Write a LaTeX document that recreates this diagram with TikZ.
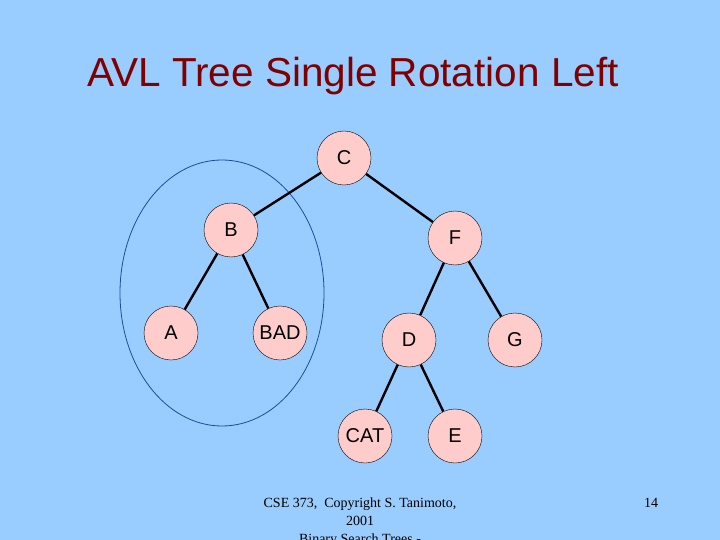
\documentclass[tikz,border=0pt]{standalone}
\usepackage{fontspec}
\setmainfont{Liberation Sans}
\newfontfamily\serifft{Liberation Serif}
\definecolor{bg}{HTML}{99CCFF}
\definecolor{nodefill}{HTML}{FFCCCC}
\definecolor{titlered}{HTML}{800000}
\definecolor{ellblue}{HTML}{1F4E99}
\begin{document}
\begin{tikzpicture}[x=1pt,y=-1pt,
  tn/.style={circle,draw=black,fill=nodefill,minimum size=54pt,inner sep=0pt,font=\fontsize{20}{22}\selectfont},
  edge/.style={line width=2.4pt,black}]
\fill[bg] (0,0) rectangle (720,540);
\useasboundingbox (0,0) rectangle (720,540);
\draw[ellblue,line width=0.8pt] (222,293) ellipse [x radius=102,y radius=133];
\node[font=\fontsize{40.5}{44}\selectfont,text=titlered] (title) at (353,76) {AVL Tree Single Rotation Left};
\node[tn] (C) at (344,158) {C};
\node[tn] (B) at (231,230) {B};
\node[tn] (F) at (455,238) {F};
\node[tn] (A) at (171,333) {A};
\node[tn] (BAD) at (280,333) {BAD};
\node[tn] (D) at (409,340) {D};
\node[tn] (G) at (515,340) {G};
\node[tn] (CAT) at (365,436) {CAT};
\node[tn] (E) at (455,436) {E};
\draw[edge] (C) -- (B);
\draw[edge] (C) -- (F);
\draw[edge] (B) -- (A);
\draw[edge] (B) -- (BAD);
\draw[edge] (F) -- (D);
\draw[edge] (F) -- (G);
\draw[edge] (D) -- (CAT);
\draw[edge] (D) -- (E);
\node[font=\serifft\fontsize{14}{18}\selectfont,align=center,anchor=north] (foot) at (360,494) {CSE 373,\ \ Copyright S. Tanimoto,\\2001\\Binary Search Trees -};
\node[font=\serifft\fontsize{14}{18}\selectfont] (pg) at (651,503) {14};
\end{tikzpicture}
\end{document}
